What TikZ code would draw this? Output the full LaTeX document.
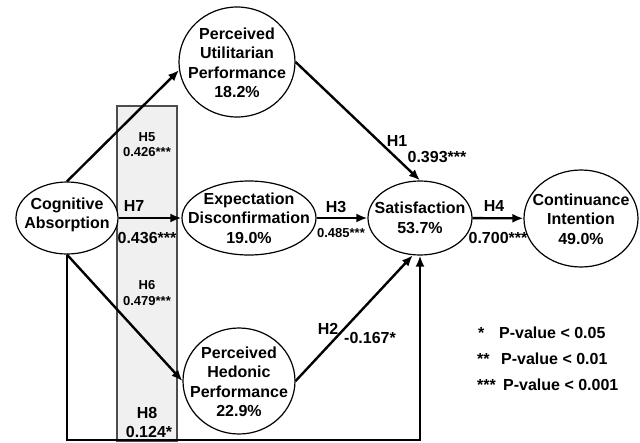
\documentclass[tikz,border=0pt]{standalone}
\usepackage{fontspec}
\setmainfont{Liberation Sans}
\usetikzlibrary{shapes.geometric,arrows.meta}
\newcommand{\nodefnt}{\fontsize{16}{19.5}\selectfont\bfseries}
\newcommand{\labfnt}{\fontsize{16}{18}\selectfont\bfseries}
\newcommand{\slabfnt}{\fontsize{13}{15}\selectfont\bfseries}
\newcommand{\legfnt}{\fontsize{16}{19}\selectfont\bfseries}
\begin{document}
\begin{tikzpicture}[x=1pt,y=-1pt,
  lv/.style={draw, ellipse, line width=1.2pt, fill=white, inner sep=0pt},
  lvtext/.style={align=center, font=\nodefnt, inner sep=0pt},
  conn/.style={line width=2.4pt, -{Latex[length=11pt,width=9pt]}},
  lab/.style={font=\labfnt, inner sep=0pt},
  slab/.style={font=\slabfnt, inner sep=0pt},
  leg/.style={font=\legfnt, inner sep=0pt, anchor=west},
  shade/.style={draw=black!70, line width=1.4pt, fill=black!6}]
\useasboundingbox (0,0) rectangle (640,442);
% shaded band
\node[shade, minimum width=60pt, minimum height=335pt, inner sep=0pt] (band) at (147,273.5) {};
% latent variables
\node[lv, minimum width=102pt, minimum height=72pt] (CA) at (67,218) {};
\node[lv, minimum width=116pt, minimum height=110pt] (PUP) at (237,62) {};
\node[lv, minimum width=134pt, minimum height=74pt] (ED) at (249,218) {};
\node[lv, minimum width=104pt, minimum height=74pt] (Sat) at (420,218) {};
\node[lv, minimum width=114pt, minimum height=97pt] (CI) at (581,218.5) {};
\node[lv, minimum width=112pt, minimum height=106pt] (PHP) at (239,381) {};
% texts
\node[lvtext] (tCA) at (67,215) {Cognitive\\Absorption};
\node[lvtext] (tPUP) at (237,63) {Perceived\\Utilitarian\\Performance\\18.2\%};
\node[lvtext] (tED) at (249,218) {Expectation\\Disconfirmation\\19.0\%};
\node[lvtext] (tSat) at (420,218) {Satisfaction\\53.7\%};
\node[lvtext] (tCI) at (581,219) {Continuance\\Intention\\49.0\%};
\node[lvtext] (tPHP) at (239,382) {Perceived\\Hedonic\\Performance\\22.9\%};
% connectors
\coordinate (bot) at (0,440);
\draw[conn] (CA.north) -- (PUP.188);
\draw[conn] (CA) -- (ED);
\draw[conn] (CA.south) -- (PHP.west);
\draw[conn] (CA.south) -- (CA.south |- bot) -| (Sat.south);
\draw[conn] (PUP.east) -- (Sat.north);
\draw[conn] (ED) -- (Sat);
\draw[conn] (PHP.east) -- (Sat.259);
\draw[conn] (Sat) -- (CI);
% labels
\node[slab] (h5) at (147,137) {H5};
\node[slab] (v5) at (147,152) {0.426***};
\node[lab] (h7) at (134,206) {H7};
\node[lab] (v7) at (147,238) {0.436***};
\node[slab] (h6) at (147,285) {H6};
\node[slab] (v6) at (147,301) {0.479***};
\node[lab] (h8) at (147,413) {H8};
\node[lab] (v8) at (149,432) {0.124*};
\node[lab] (h1) at (397,141) {H1};
\node[lab] (v1) at (437,157) {0.393***};
\node[lab] (h3) at (336,207) {H3};
\node[slab] (v3) at (341,233) {0.485***};
\node[lab] (h4) at (494,206) {H4};
\node[lab] (v4) at (498,238) {0.700***};
\node[lab] (h2) at (328,329) {H2};
\node[lab] (v2) at (370,338) {-0.167*};
% legend
\node[leg] (s1) at (478,333) {*};
\node[leg] (l1) at (499,333) {P-value < 0.05};
\node[leg] (s2) at (477,359) {**};
\node[leg] (l2) at (501,359) {P-value < 0.01};
\node[leg] (s3) at (477,385) {***};
\node[leg] (l3) at (503,385) {P-value < 0.001};
\end{tikzpicture}
\end{document}
